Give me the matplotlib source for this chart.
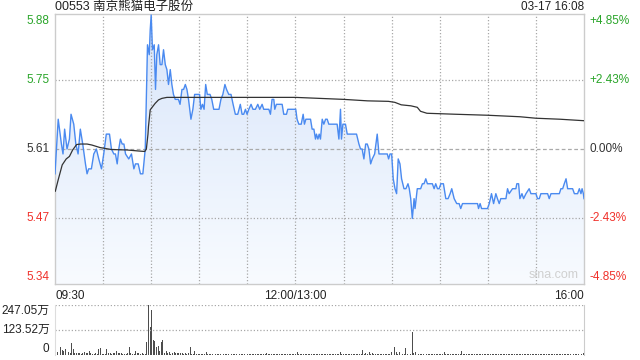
"""Intraday price / volume chart for 00553."""

import matplotlib
matplotlib.use("Agg")
import matplotlib.pyplot as plt
import numpy as np
from matplotlib.colors import LinearSegmentedColormap
from matplotlib.patches import Polygon

plt.rcParams["font.family"] = ["Liberation Sans", "Noto Sans CJK SC"]

title = "00553 南京熊猫电子股份"
stamp = "03-17 16:08"
prev_close = 5.61
y_lo, y_hi = 5.338, 5.882

left_ticks = [5.88, 5.75, 5.61, 5.47, 5.34]
right_ticks = ["+4.85%", "+2.43%", "0.00%", "-2.43%", "-4.85%"]
tick_colors = ["#2aa52a", "#2aa52a", "#333333", "#f0302a", "#f0302a"]
x_labels = ["09:30", "12:00/13:00", "16:00"]
x_label_pos = [0, 150, 330]

# minutes from 09:30 (lunch break removed), price
price_t = [0, 2, 4, 5, 6, 7.5, 9, 10, 11.7, 13, 14.4, 15.8, 17.3, 19, 20, 21,
           22.7, 24.2, 25.8, 27.3, 29, 30.4, 32, 34, 35.2, 36.7, 37.7, 38.8,
           39.8, 40.8, 41.9, 43, 44, 46, 47.7, 49.2, 50.2, 51.9, 53.3, 54.8,
           56.3, 57.7, 58.8, 59.4, 60, 60.8, 61.9, 62.7, 63.5, 64.6, 65.6,
           66.7, 67.7, 68.8, 69.8, 70.8, 71.9, 72.9, 73.9, 75, 77, 78, 79.2,
           80.2, 81.3, 82.3, 83.3, 84.8, 86, 87.1, 88.5, 90.2, 91, 92, 93, 94,
           95, 96.7, 97.8, 99, 100.6, 102.3, 103.5, 104.7, 106, 107, 108.4,
           109.8, 111.1, 112.5, 114, 115.6, 116.7, 117.7, 118.8, 119.8, 120.9,
           122.3, 123.5, 125, 126.5, 127.7, 129.2, 130.2, 131.9, 133.4, 134.4,
           135.4, 136.5, 137.1, 138.1, 139.6, 141.7, 142.7, 144.4, 145.2,
           146.9, 150.2, 151, 152.1, 153.6, 154.8, 155.6, 156.5, 157.7, 159.4,
           160.4, 161.5, 162.5, 163.1, 164, 164.8, 165.6, 166.7, 167.7, 168.8,
           169.8, 170.8, 176, 177.1, 178.1, 178.7, 179.6, 180.6, 181.2, 182.3,
           188.1, 189.6, 190.6, 191.6, 192.7, 193.8, 194.8, 195.8, 196.9,
           197.9, 199.4, 201, 202.1, 207.3, 208.1, 209, 210, 211, 212.1, 213.1,
           214.1, 215.2, 216.2, 217.7, 218.9, 220.2, 221, 221.9, 222.9, 224,
           224.6, 226, 228.1, 229.2, 230.2, 231.3, 232.3, 235.4, 236.5, 237.5,
           238.6, 239.6, 240.7, 242.3, 243.8, 245.2, 246.5, 247.5, 249, 250.6,
           252.1, 253.1, 254.2, 263.6, 264.2, 265.2, 266.1, 269.8, 270.9,
           272.3, 273.6, 275, 276, 277.1, 278.1, 280.2, 281.3, 282.3, 283.3,
           285.4, 286.5, 287.5, 288.1, 289.2, 290, 291.3, 292.3, 293.8, 295.8,
           296.9, 300, 301, 302.1, 303.1, 304.2, 307.3, 308.3, 309.4, 312.5,
           314.6, 315.6, 316.7, 317.7, 318.8, 319.8, 320.8, 322.9, 324, 325,
           326, 327.1, 328.1, 328.8, 329.6, 330]
price = [5.56, 5.67, 5.62, 5.60, 5.65, 5.61, 5.63, 5.68, 5.66, 5.62, 5.60, 5.65,
         5.62, 5.58, 5.56, 5.57, 5.57, 5.60, 5.61, 5.59, 5.57, 5.60, 5.64, 5.64,
         5.61, 5.60, 5.60, 5.58, 5.61, 5.63, 5.62, 5.62, 5.60, 5.59, 5.60, 5.57,
         5.58, 5.58, 5.56, 5.56, 5.61, 5.82, 5.80, 5.85, 5.88, 5.81, 5.82, 5.73,
         5.80, 5.82, 5.78, 5.78, 5.81, 5.78, 5.77, 5.74, 5.77, 5.74, 5.72, 5.71,
         5.71, 5.70, 5.73, 5.73, 5.74, 5.73, 5.71, 5.67, 5.69, 5.72, 5.72, 5.72,
         5.69, 5.70, 5.69, 5.74, 5.72, 5.72, 5.71, 5.69, 5.69, 5.69, 5.71, 5.72,
         5.74, 5.73, 5.72, 5.72, 5.70, 5.68, 5.68, 5.70, 5.68, 5.68, 5.69, 5.68,
         5.69, 5.70, 5.69, 5.69, 5.70, 5.69, 5.70, 5.69, 5.69, 5.69, 5.68, 5.71,
         5.71, 5.69, 5.70, 5.70, 5.70, 5.68, 5.68, 5.69, 5.69, 5.69, 5.67, 5.66,
         5.66, 5.68, 5.66, 5.67, 5.67, 5.67, 5.65, 5.65, 5.63, 5.64, 5.63, 5.64,
         5.63, 5.67, 5.66, 5.67, 5.67, 5.66, 5.66, 5.63, 5.69, 5.63, 5.66, 5.66,
         5.66, 5.64, 5.64, 5.62, 5.61, 5.61, 5.59, 5.62, 5.62, 5.61, 5.58, 5.59,
         5.60, 5.64, 5.60, 5.60, 5.59, 5.60, 5.60, 5.55, 5.53, 5.52, 5.59, 5.58,
         5.55, 5.53, 5.53, 5.54, 5.53, 5.51, 5.47, 5.51, 5.49, 5.53, 5.53, 5.54,
         5.54, 5.55, 5.54, 5.54, 5.53, 5.54, 5.53, 5.53, 5.54, 5.54, 5.51, 5.51,
         5.52, 5.53, 5.51, 5.50, 5.50, 5.49, 5.50, 5.50, 5.49, 5.50, 5.49, 5.49,
         5.50, 5.52, 5.50, 5.52, 5.51, 5.50, 5.51, 5.51, 5.51, 5.53, 5.52, 5.53,
         5.53, 5.53, 5.54, 5.54, 5.51, 5.52, 5.51, 5.52, 5.53, 5.52, 5.52, 5.51,
         5.51, 5.52, 5.52, 5.52, 5.51, 5.52, 5.52, 5.52, 5.53, 5.53, 5.54, 5.55,
         5.53, 5.53, 5.53, 5.52, 5.52, 5.52, 5.53, 5.52, 5.53, 5.52, 5.51]

avg_t = [0.2, 2, 4.5, 7, 9, 11, 13.5, 16, 20, 23, 28, 35, 45, 52, 56, 57, 58,
         58.3, 59.4, 62.5, 64.6, 66.7, 69.8, 150, 165, 180, 195, 208, 212, 216,
         222, 226, 228, 232, 250, 270, 290, 300, 315, 330]
avg = [5.525, 5.548, 5.578, 5.590, 5.595, 5.608, 5.619, 5.620, 5.620, 5.618,
       5.613, 5.609, 5.608, 5.606, 5.605, 5.610, 5.640, 5.655, 5.689, 5.702,
       5.709, 5.712, 5.714, 5.714, 5.712, 5.710, 5.707, 5.706, 5.704, 5.699,
       5.697, 5.694, 5.686, 5.682, 5.680, 5.678, 5.675, 5.672, 5.670, 5.667]

vol_max = 247.05
vol_ticks = ["247.05万", "123.52万", "0"]
# per-minute volume, in 万 shares
volume = [
    53, 16, 33, 40, 25, 18, 30, 25, 16, 10,
    58, 30, 12, 10, 12, 8, 6, 12, 16, 12,
    8, 20, 8, 6, 5, 8, 4, 30, 33, 5,
    4, 4, 28, 12, 8, 6, 10, 8, 20, 12,
    12, 8, 4, 4, 5, 8, 38, 8, 6, 5,
    20, 8, 12, 5, 8, 4, 4, 66, 247, 140,
    222, 74, 71, 40, 42, 20, 66, 72, 8, 20,
    8, 16, 5, 12, 16, 10, 8, 12, 8, 10,
    5, 10, 6, 10, 40, 7, 5, 20, 6, 4,
    5, 6, 4, 7, 16, 5, 4, 6, 5, 7,
    4, 5, 6, 4, 5, 7, 5, 4, 6, 5,
    4, 6, 5, 7, 4, 5, 5, 6, 4, 5,
    6, 4, 5, 7, 5, 4, 6, 5, 4, 5,
    6, 5, 10, 5, 4, 6, 5, 4, 5, 7,
    5, 4, 6, 5, 4, 5, 6, 4, 5, 6,
    5, 16, 5, 4, 6, 5, 7, 4, 5, 6,
    4, 5, 6, 5, 4, 7, 5, 4, 6, 5,
    5, 4, 6, 5, 4, 5, 6, 5, 16, 4,
    5, 6, 4, 5, 7, 5, 4, 6, 5, 5,
    6, 4, 25, 6, 12, 5, 16, 5, 12, 4,
    6, 5, 4, 5, 6, 4, 5, 7, 5, 6,
    16, 33, 41, 16, 6, 16, 5, 6, 7, 33,
    5, 16, 6, 115, 12, 16, 14, 6, 5, 7,
    5, 6, 4, 5, 7, 5, 4, 6, 5, 6,
    5, 4, 6, 16, 5, 6, 4, 5, 7, 5,
    6, 4, 5, 7, 20, 5, 4, 6, 5, 7,
    4, 6, 5, 5, 7, 4, 6, 5, 4, 6,
    5, 7, 4, 6, 5, 6, 4, 5, 7, 5,
    6, 4, 5, 7, 5, 4, 6, 5, 4, 6,
    5, 7, 4, 6, 5, 4, 6, 5, 7, 5,
    4, 6, 5, 7, 4, 5, 6, 4, 5, 7,
    5, 4, 6, 5, 7, 4, 6, 5, 4, 6,
    5, 7, 4, 6, 5, 4, 6, 5, 7, 6, 12,
]

W, H = 640, 360
fig = plt.figure(figsize=(W / 100, H / 100), dpi=100)
fig.patch.set_facecolor("white")

L, R = 55, 584
ax = fig.add_axes([L / W, (H - 284) / H, (R - L) / W, 270 / H])
axv = fig.add_axes([L / W, (H - 355) / H, (R - L) / W, 50 / H])

grid_kw = dict(color="#a8a8a8", lw=0.9, ls=(0, (1, 1.6)), zorder=2)

# price panel
ax.set_xlim(0, 330)
ax.set_ylim(y_lo, y_hi)
for s in ax.spines.values():
    s.set_color("#cccccc")
    s.set_linewidth(1)
ax.set_xticks([])
ax.set_yticks([])
for xv in range(30, 330, 30):
    ax.axvline(xv, **grid_kw)
for yv in [5.75, 5.47]:
    ax.axhline(yv, **grid_kw)
ax.axhline(prev_close, color="#aaaaaa", lw=0.9, ls=(0, (3, 2)), zorder=2)

verts = np.column_stack([np.r_[price_t[0], price_t, price_t[-1]],
                         np.r_[y_lo, price, y_lo]])
poly = Polygon(verts, closed=True, facecolor="none", edgecolor="none")
ax.add_patch(poly)
grad = np.linspace(1, 0, 256).reshape(-1, 1)
cmap = LinearSegmentedColormap.from_list("fill", ["#f8fbff", "#d8e5fa"])
im = ax.imshow(grad, extent=[0, 330, y_lo, 5.88], aspect="auto", cmap=cmap,
               zorder=1)
im.set_clip_path(poly)

ax.plot(price_t, price, color="#4a8af0", lw=1.0, zorder=3)
ax.plot(avg_t, avg, color="#333333", lw=0.9, zorder=4)

ax.text(0.99, 0.01, "sina.com", transform=ax.transAxes, ha="right",
        va="bottom", fontsize=9, color="#d0d0d0")

vas = ["top", "center", "center", "center", "bottom"]
for val, lab, col, va in zip(left_ticks, right_ticks, tick_colors, vas):
    yv = min(max(val, y_lo), y_hi)
    ax.annotate(f"{val:.2f}", (0, yv), xycoords=("axes fraction", "data"),
                xytext=(-4, 0), textcoords="offset points", ha="right",
                va=va, fontsize=8.5, color=col)
    ax.annotate(lab, (1, yv), xycoords=("axes fraction", "data"),
                xytext=(4, 0), textcoords="offset points", ha="left",
                va=va, fontsize=8.5, color=col)

for lab, xp, ha in zip(x_labels, x_label_pos, ["left", "center", "right"]):
    ax.annotate(lab, (xp, 0), xycoords=("data", "axes fraction"),
                xytext=(0, -4), textcoords="offset points", ha=ha, va="top",
                fontsize=8.5, color="#222222")

fig.text(L / W, 1 - 7 / H, title, ha="left", va="center", fontsize=9,
         color="#222222")
fig.text(R / W, 1 - 7 / H, stamp, ha="right", va="center", fontsize=8.5,
         color="#222222")

# volume panel
axv.set_xlim(-0.5, 330.5)
axv.set_ylim(0, vol_max)
axv.bar(np.arange(len(volume)), volume, width=0.6, color="#4d4d4d", lw=0)
axv.set_xticks([])
axv.set_yticks([])
for side in ["top", "bottom"]:
    axv.spines[side].set_visible(False)
axv.spines["left"].set_color("#dddddd")
axv.spines["right"].set_color("#cccccc")
for yv in [vol_max, vol_max / 2]:
    axv.axhline(yv, **grid_kw)
for lab, yv, va in zip(vol_ticks, [vol_max, vol_max / 2, 0],
                       ["top", "center", "bottom"]):
    axv.annotate(lab, (0, yv), xycoords=("axes fraction", "data"),
                 xytext=(-4, 0), textcoords="offset points", ha="right",
                 va=va, fontsize=8.5, color="#222222")

fig.savefig("out.png", dpi=100)
plt.close(fig)
